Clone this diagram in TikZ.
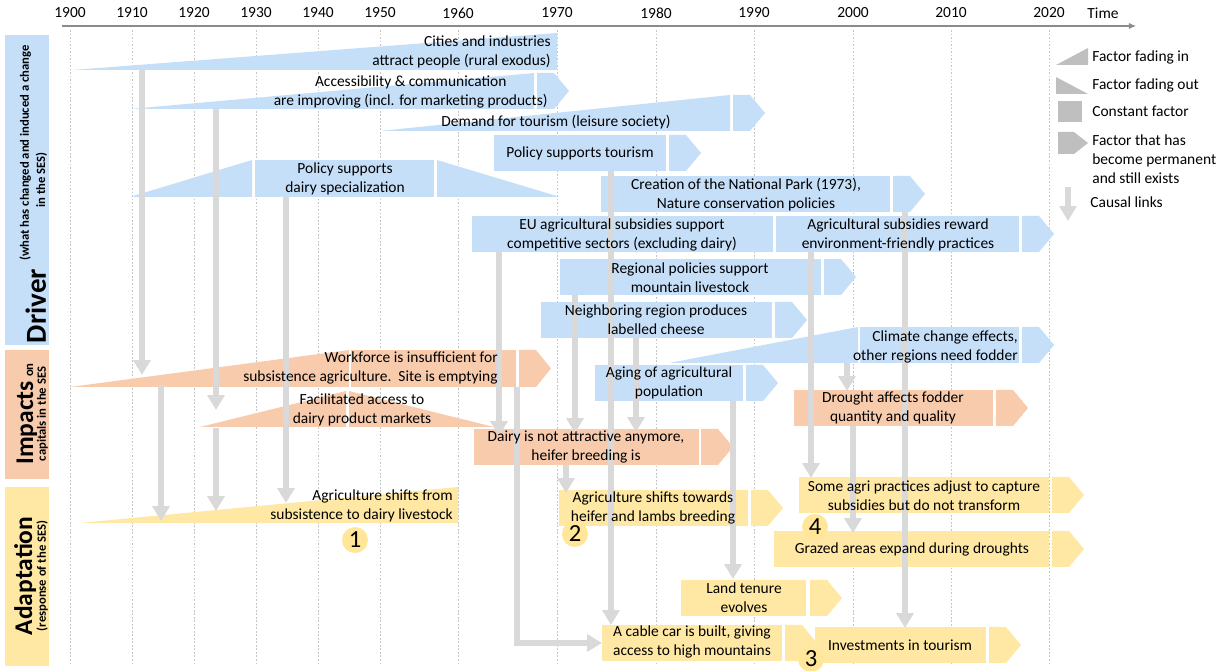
\documentclass[tikz,border=0pt]{standalone}
\usepackage{fontspec}
\setmainfont{Carlito}
\usetikzlibrary{arrows.meta}

\definecolor{drvblue}{HTML}{C6DFF9}
\definecolor{impred}{HTML}{F8CBAD}
\definecolor{adpyel}{HTML}{FFE8A3}
\definecolor{numyel}{HTML}{FFE699}
\definecolor{linkgray}{HTML}{D9D9D9}
\definecolor{keygray}{HTML}{BFBFBF}
\definecolor{axisgray}{HTML}{8C8C8C}

\newcommand{\fs}{\fontsize{8.8}{10.8}\selectfont}
\newcommand{\bigfs}{\fontsize{14.5}{16}\selectfont\bfseries}
\newcommand{\smfs}{\fontsize{7.2}{8.6}\selectfont\bfseries}
\newcommand{\numfs}{\fontsize{14}{14}\selectfont}

% chevron end: x, ytop, ybot, colour
\newcommand{\chev}[4]{\fill[#4] (#1,#2) -- (#1+17,#2) -- (#1+32,{(#2+#3)/2}) -- (#1+17,#3) -- (#1,#3) -- cycle;}
% wedges: xleft, xright, ytop, ybot, colour
\newcommand{\fadein}[5]{\fill[#5] (#1,#4) -- (#2,#3) -- (#2,#4) -- cycle;}
\newcommand{\fadeout}[5]{\fill[#5] (#1,#3) -- (#2,#4) -- (#1,#4) -- cycle;}

\begin{document}
\begin{tikzpicture}[x=0.02cm, y=-0.02cm,
    txt/.style={font=\fs, align=center, inner sep=0pt},
    keytxt/.style={font=\fs, align=left, inner sep=0pt, anchor=west},
    yrline/.style={draw=gray!45, line width=0.3pt, dash pattern=on 1pt off 1pt},
    causal/.style={draw=linkgray, line width=3.4pt, -{Triangle[width=9.6pt,length=8.5pt]}},
    num/.style={circle, fill=numyel, inner sep=0pt, minimum size=0.52cm, font=\numfs},
    sidelbl/.style={rotate=90, anchor=base, inner sep=0pt}]
  \useasboundingbox (0,0) rectangle (1218,671);

  % time axis
  \foreach \yx/\yr in {70/1900,132/1910,194/1920,256/1930,318/1940,380/1950,458/1960,
                       557/1970,656/1980,754/1990,853/2000,951/2010,1049/2020}{
    \draw[yrline] (\yx,30) -- (\yx,666);
    \node[txt] (y\yr) at (\yx,13) {\yr};
  }
  \draw[axisgray, line width=0.6pt, -{Latex[length=4pt,width=3.5pt]}] (62,26) -- (1136,26);
  \node[txt] (time) at (1103,13) {Time};

  % side labels
  \fill[drvblue] (5,35) rectangle (49,345);
  \fill[impred] (5,350) rectangle (49,479);
  \fill[adpyel] (5,487) rectangle (49,666);
  \node[sidelbl, font=\fontsize{16.5}{18}\selectfont\bfseries] (drv) at (46,306) {Driver};
  \node[sidelbl, font=\smfs] (drv1) at (29,153) {(what has changed and induced a change};
  \node[sidelbl, font=\smfs] (drv2) at (45,180) {in the SES)};
  \node[sidelbl, font=\bigfs] (imp) at (33,414) {Impacts\,{\smfs on}};
  \node[sidelbl, font=\smfs] (imp2) at (46,414) {capitals in the SES};
  \node[sidelbl, font=\bigfs] (adp) at (32,576) {Adaptation};
  \node[sidelbl, font=\smfs] (adp2) at (46,576) {(response of the SES)};

  % drivers
  \fadein{72}{557}{33}{70}{drvblue}
  \fadein{130}{534}{73}{109}{drvblue} \chev{537}{73}{109}{drvblue}
  \fadein{380}{730}{95}{131}{drvblue} \chev{733}{95}{131}{drvblue}
  \fill[drvblue] (494,135) rectangle (666,171); \chev{669}{135}{171}{drvblue}
  \fadein{130}{252}{160}{197}{drvblue}
  \fill[drvblue] (255,160) rectangle (434,197);
  \fadeout{437}{560}{160}{197}{drvblue}
  \fill[drvblue] (601,176) rectangle (890,212); \chev{893}{176}{212}{drvblue}
  \fill[drvblue] (472,216) rectangle (773,252);
  \fill[drvblue] (776,216) rectangle (1019,252); \chev{1022}{216}{252}{drvblue}
  \fill[drvblue] (560,259) rectangle (821,295); \chev{824}{259}{295}{drvblue}
  \fill[drvblue] (541,302) rectangle (772,338); \chev{775}{302}{338}{drvblue}
  \fadein{669}{858}{327}{363}{drvblue}
  \fill[drvblue] (860,327) rectangle (1019,363); \chev{1022}{327}{363}{drvblue}
  \fill[drvblue] (595,365) rectangle (743,401); \chev{746}{365}{401}{drvblue}

  % impacts
  \fadein{70}{349}{350}{387}{impred}
  \fill[impred] (351,350) rectangle (516,387); \chev{519}{350}{387}{impred}
  \fadein{200}{346}{391}{427}{impred}
  \fadeout{349}{494}{391}{427}{impred}
  \fill[impred] (794,390) rectangle (993,426); \chev{996}{390}{426}{impred}
  \fill[impred] (474,429) rectangle (699,465); \chev{701}{429}{465}{impred}

  % adaptation
  \fadein{80}{458}{487}{523}{adpyel}
  \fill[adpyel] (559,490) rectangle (748,526); \chev{751}{490}{526}{adpyel}
  \fill[adpyel] (799,477) rectangle (1049,513); \chev{1052}{477}{513}{adpyel}
  \fill[adpyel] (774,531) rectangle (1049,567); \chev{1052}{531}{567}{adpyel}
  \fill[adpyel] (681,580) rectangle (806,616); \chev{810}{580}{616}{adpyel}
  \fill[adpyel] (602,625) rectangle (782,661); \chev{785}{625}{661}{adpyel}
  \fill[adpyel] (815,627) rectangle (986,663); \chev{989}{627}{663}{adpyel}

  % causal links
  \foreach \n/\kx/\ka/\kb in {1/142/70/375, 2/216/109/410, 3/286/197/503, 4/161/385/521,
                              5/216/428/511, 6/499/252/436, 8/575/295/433, 9/566/465/493,
                              10/611/171/625, 11/636/338/432, 12/733/401/579, 13/811/252/478,
                              14/847/363/391, 15/853/426/533, 16/905/212/628}{
    \coordinate (k\n a) at (\kx,\ka);
    \coordinate (k\n b) at (\kx,\kb);
    \draw[causal] (k\n a) -- (k\n b);
  }
  \coordinate (k7a) at (517,387);
  \coordinate (k7b) at (602,643);
  \draw[causal] (k7a) |- (k7b);

  % texts
  \node[txt, anchor=east, align=right] (cities) at (551,51.5) {Cities and industries\\attract people (rural exodus)};
  \node[txt, anchor=east] (access) at (548,92) {Accessibility \& communication\\are improving (incl. for marketing products)};
  \node[txt] (demand) at (556,122) {Demand for tourism (leisure society)};
  \node[txt] (poltour) at (580,153) {Policy supports tourism};
  \node[txt] (poldairy) at (345,179) {Policy supports\\dairy specialization};
  \node[txt] (park) at (746,195) {Creation of the National Park (1973),\\Nature conservation policies};
  \node[txt] (eu) at (622,235) {EU agricultural subsidies support\\competitive sectors (excluding dairy)};
  \node[txt] (reward) at (898,235) {Agricultural subsidies reward\\environment-friendly practices};
  \node[txt] (regional) at (690,278) {Regional policies support\\mountain livestock};
  \node[txt] (cheese) at (656,320) {Neighboring region produces\\labelled cheese};
  \node[txt, anchor=east, align=right] (climate) at (1018,347) {Climate change effects,\\other regions need fodder};
  \node[txt] (aging) at (669,383) {Aging of agricultural\\population};
  \node[txt, anchor=east, align=right] (workforce) at (498,368) {Workforce is insufficient for\\subsistence agriculture.\ \ Site is emptying};
  \node[txt] (markets) at (362,410) {Facilitated access to\\dairy product markets};
  \node[txt] (drought) at (893,408) {Drought affects fodder\\quantity and quality};
  \node[txt] (dairy) at (586,447) {Dairy is not attractive anymore,\\heifer breeding is};
  \node[txt, anchor=east, align=right] (shiftdairy) at (453,506) {Agriculture shifts from\\subsistence to dairy livestock};
  \node[txt] (shiftheifer) at (653,508) {Agriculture shifts towards\\heifer and lambs breeding};
  \node[txt] (capture) at (924,496) {Some agri practices adjust to capture\\subsidies but do not transform};
  \node[txt] (grazed) at (912,549) {Grazed areas expand during droughts};
  \node[txt] (tenure) at (744,598) {Land tenure\\evolves};
  \node[txt] (cable) at (692,642) {A cable car is built, giving\\access to high mountains};
  \node[txt] (invest) at (900,645) {Investments in tourism};

  \node[num] (n1) at (355,540) {1};
  \node[num] (n2) at (575,534) {2};
  \node[num] (n3) at (811,659) {3};
  \node[num] (n4) at (815,527) {4};

  % key
  \fill[keygray] (1056,65) -- (1088,48) -- (1088,65) -- cycle;
  \node[keytxt] (kin) at (1092,57) {Factor fading in};
  \fill[keygray] (1056,77) -- (1088,94) -- (1056,94) -- cycle;
  \node[keytxt] (kout) at (1092,85) {Factor fading out};
  \fill[keygray] (1058,101) rectangle (1082,122);
  \node[keytxt] (kconst) at (1092,111) {Constant factor};
  \fill[keygray] (1058,132) -- (1074,132) -- (1088,143) -- (1074,154) -- (1058,154) -- cycle;
  \node[keytxt] (kperm) at (1092,159) {Factor that has\\become permanent\\and still exists};
  \coordinate (kla) at (1068,187);
  \coordinate (klb) at (1068,221);
  \draw[causal] (kla) -- (klb);
  \node[keytxt] (klink) at (1090,202) {Causal links};
\end{tikzpicture}
\end{document}
